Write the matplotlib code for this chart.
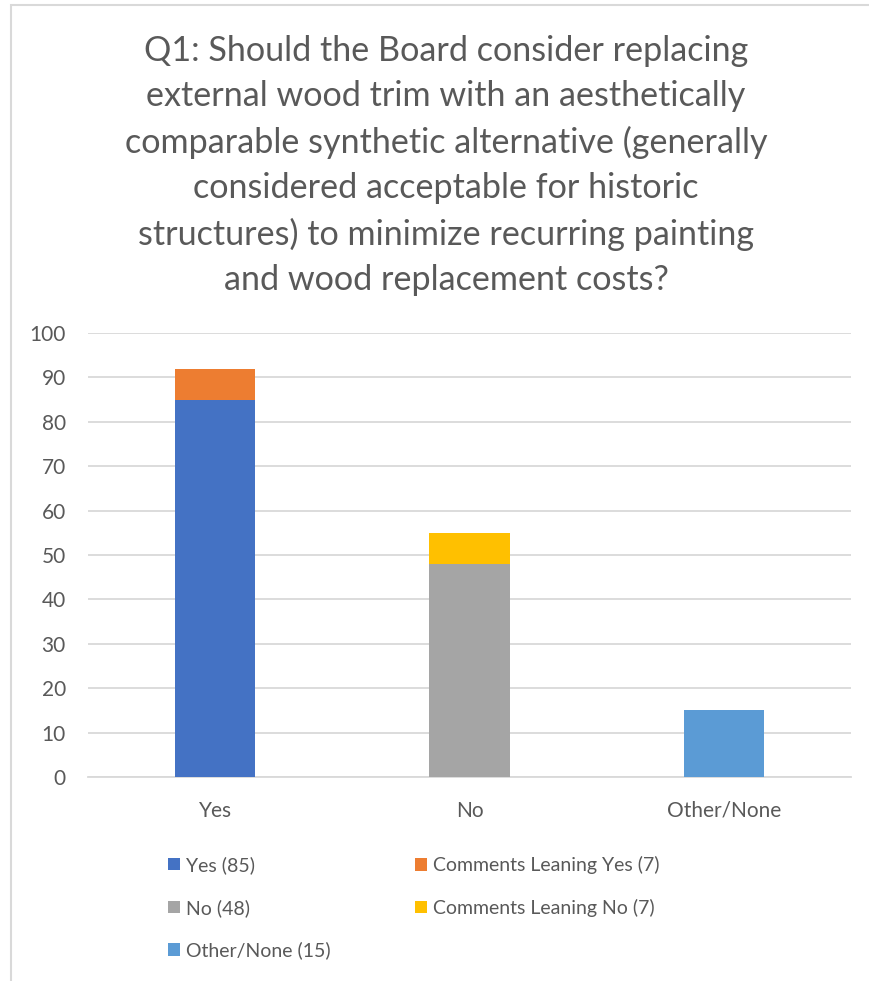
import matplotlib
matplotlib.use("Agg")
import matplotlib.pyplot as plt
from matplotlib.patches import Rectangle
import numpy as np

plt.rcParams['font.family'] = ['Lato', 'DejaVu Sans']

categories = ["Yes", "No", "Other/None"]
series_names = ["Yes (85)", "Comments Leaning Yes (7)", "No (48)",
                "Comments Leaning No (7)", "Other/None (15)"]
yes_vals = [85, 0, 0]
lean_yes_vals = [7, 0, 0]
no_vals = [0, 48, 0]
lean_no_vals = [0, 7, 0]
other_vals = [0, 0, 15]
colors = ["#4472C4", "#ED7D31", "#A5A5A5", "#FFC000", "#5B9BD5"]
yticks = [0, 10, 20, 30, 40, 50, 60, 70, 80, 90, 100]

title = ("Q1: Should the Board consider replacing\n"
         "external wood trim with an aesthetically\n"
         "comparable synthetic alternative (generally\n"
         "considered acceptable for historic\n"
         "structures) to minimize recurring painting\n"
         "and wood replacement costs?")

TEXT = "#595959"
GRID = "#D9D9D9"

W, H = 870, 981
fig = plt.figure(figsize=(W / 100, H / 100), dpi=100)
ax = fig.add_axes([88 / W, 1 - 777 / H, (851 - 88) / W, (777 - 333) / H])

x = np.arange(len(categories))
bottom = np.zeros(len(categories))
containers = []
for vals, name, col in zip([yes_vals, lean_yes_vals, no_vals, lean_no_vals, other_vals],
                           series_names, colors):
    v = np.array(vals, dtype=float)
    c = ax.bar(x, v, bottom=bottom, width=0.315, color=col, label=name, zorder=3)
    containers.append(c)
    bottom += v

ax.set_xlim(-0.5, len(categories) - 0.5)
ax.set_ylim(0, 100)
ax.set_yticks(yticks)
ax.set_xticks(x)
ax.set_xticklabels(categories)
ax.tick_params(axis='both', length=0, labelsize=15, colors=TEXT)
ax.tick_params(axis='y', pad=16)
ax.tick_params(axis='x', pad=17)
ax.grid(axis='y', color=GRID, linewidth=1.3, zorder=0)
for s in ['top', 'right', 'left']:
    ax.spines[s].set_visible(False)
ax.spines['bottom'].set_color(GRID)
ax.spines['bottom'].set_linewidth(1.3)

fig.text(446 / W, 1 - 35 / H, title, ha='center', va='top', fontsize=24.6,
         color=TEXT, linespacing=1.505)

# legend in two columns
leg_kw = dict(frameon=False, fontsize=14, labelcolor=TEXT, handlelength=0.62,
              handleheight=0.62, handletextpad=0.3, labelspacing=1.28,
              borderpad=0, borderaxespad=0, loc='upper left')
leg1 = fig.legend([containers[0], containers[2], containers[4]],
                  [series_names[0], series_names[2], series_names[4]],
                  bbox_to_anchor=(168 / W, 1 - 856 / H), **leg_kw)
leg2 = fig.legend([containers[1], containers[3]],
                  [series_names[1], series_names[3]],
                  bbox_to_anchor=(415 / W, 1 - 856 / H), **leg_kw)

# chart border
fig.patches.append(Rectangle((11.5 / W, -0.1), 2, 1.1 - 5.5 / H,
                             transform=fig.transFigure, fill=False,
                             edgecolor=GRID, linewidth=1.5))

fig.savefig("out.png", dpi=100, facecolor="white")
